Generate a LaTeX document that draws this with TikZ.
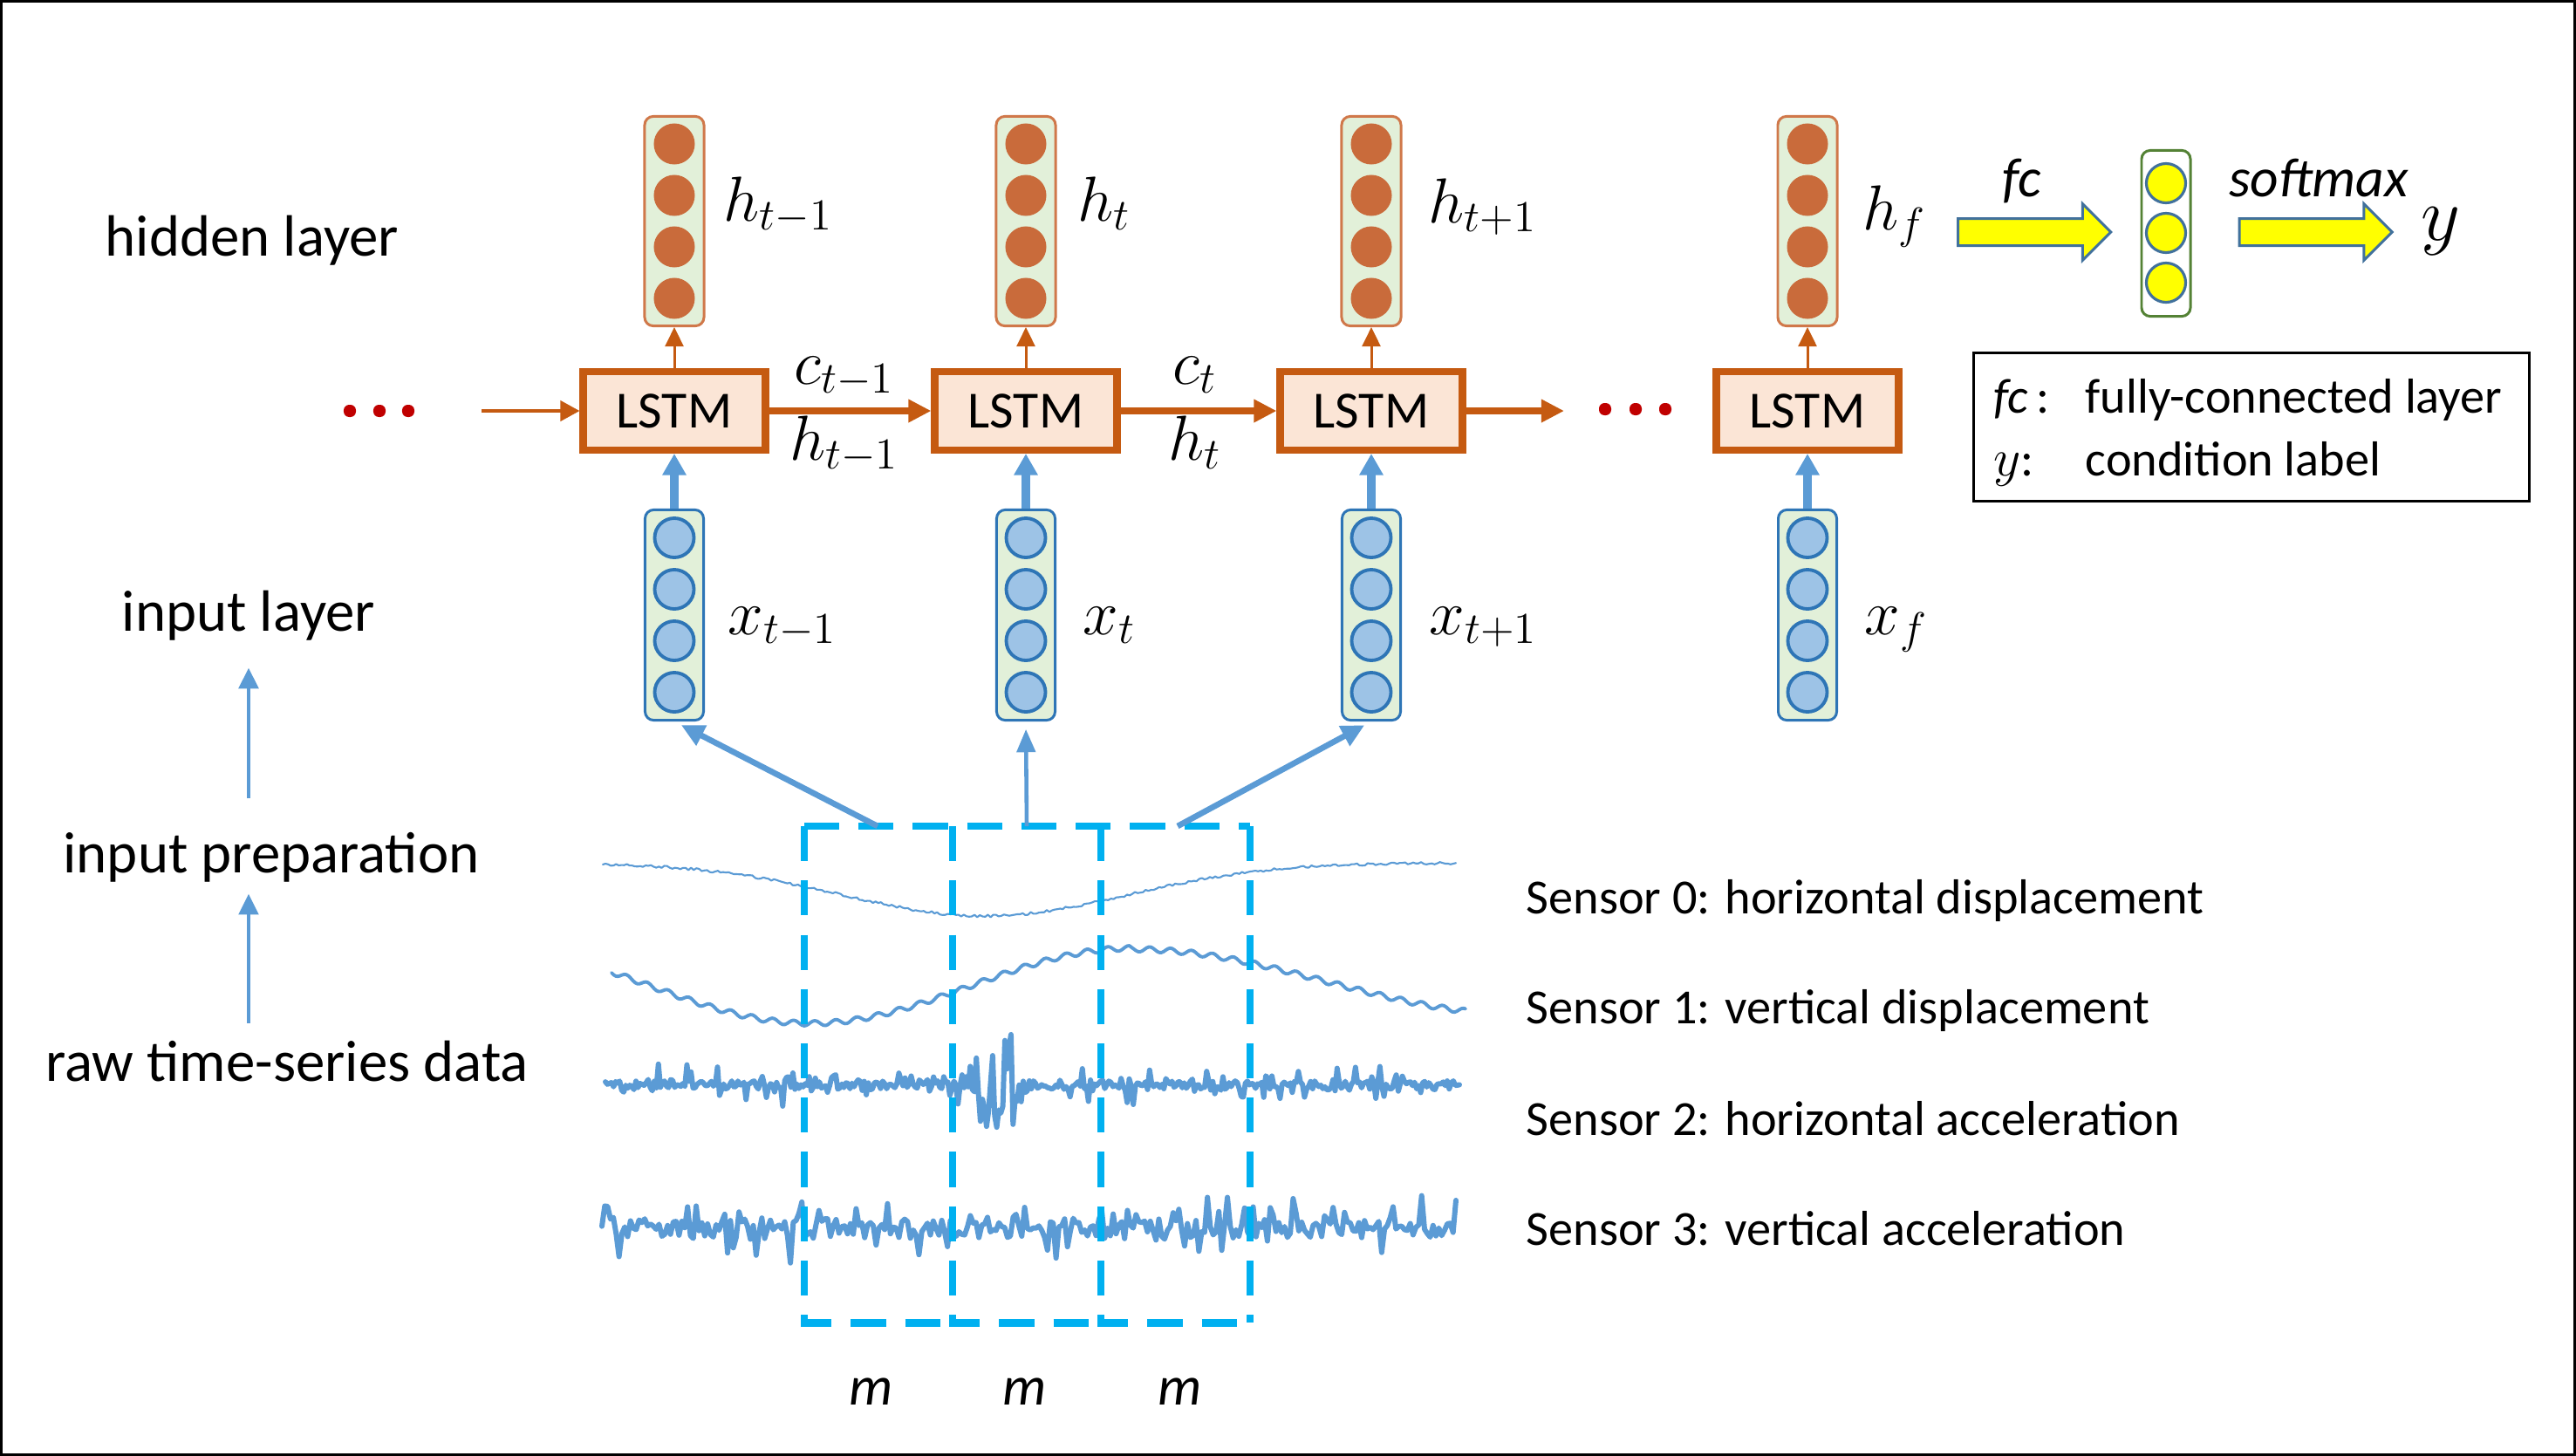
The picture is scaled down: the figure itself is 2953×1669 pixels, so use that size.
\documentclass[tikz,border=0pt]{standalone}
\usepackage{fontspec}
\setmainfont{Carlito}
\usetikzlibrary{arrows.meta,shapes.arrows,calc}
\definecolor{lstmO}{HTML}{C55A11}
\definecolor{lstmF}{HTML}{FBE5D6}
\definecolor{vecF}{HTML}{E2F0D9}
\definecolor{hBord}{HTML}{D0784A}
\definecolor{hCirc}{HTML}{C96B3B}
\definecolor{inB}{HTML}{2E75B6}
\definecolor{inF}{HTML}{9DC3E6}
\definecolor{arB}{HTML}{5B9BD5}
\definecolor{cyanD}{HTML}{00B0F0}
\definecolor{dotR}{HTML}{C00000}
\definecolor{yelF}{HTML}{FFFF00}
\definecolor{yelE}{HTML}{41719C}
\definecolor{grnE}{HTML}{548235}
\begin{document}
\begin{tikzpicture}[x=0.01cm,y=-0.01cm,
  declare function={spk(\r)=\r*\r*\r*\r*\r*\r*\r; spf(\r)=\r*\r*\r*\r*\r;},
  lstmbox/.style={draw=lstmO,line width=2.4pt,fill=lstmF,minimum width=2.085cm,minimum height=0.895cm,inner sep=0pt,font=\fontsize{17}{20}\selectfont},
  hbox/.style={draw=hBord,line width=0.85pt,fill=vecF,rounded corners=2.8pt,minimum width=0.68cm,minimum height=2.40cm,inner sep=0pt},
  ibox/.style={draw=inB,line width=0.85pt,fill=vecF,rounded corners=2.8pt,minimum width=0.67cm,minimum height=2.41cm,inner sep=0pt},
  hcirc/.style={circle,fill=hCirc,minimum size=0.47cm,inner sep=0pt},
  icirc/.style={circle,fill=inF,draw=inB,line width=1.1pt,minimum size=0.45cm,inner sep=0pt},
  ycirc/.style={circle,fill=yelF,draw=yelE,line width=0.9pt,minimum size=0.45cm,inner sep=0pt},
  ybox/.style={draw=grnE,line width=0.85pt,fill=white,rounded corners=2.8pt,minimum width=0.56cm,minimum height=1.90cm,inner sep=0pt},
  mlab/.style={anchor=base west,inner sep=0pt,font=\fontsize{19.5}{23}\selectfont},
  clab/.style={anchor=base,inner sep=0pt,font=\fontsize{19.5}{23}\selectfont},
  txt/.style={anchor=base,inner sep=0pt,font=\fontsize{19}{23}\selectfont},
  sens/.style={anchor=base west,inner sep=0pt,font=\fontsize{16}{19}\selectfont},
  itl/.style={anchor=base,inner sep=0pt,font=\fontsize{18}{21}\selectfont\itshape},
  dotn/.style={rectangle,rounded corners=1.8pt,fill=dotR,minimum width=0.14cm,minimum height=0.14cm,inner sep=0pt},
  oconn/.style={draw=lstmO,line width=2.3pt,-{Triangle[length=7.4pt,width=7.1pt]}},
  othin/.style={draw=lstmO,line width=0.85pt,-{Triangle[length=6.3pt,width=6pt]}},
  oin/.style={draw=lstmO,line width=1.1pt,-{Triangle[length=6.3pt,width=6.6pt]}},
  bup/.style={draw=arB,line width=2.8pt,-{Triangle[length=7pt,width=7.4pt]}},
  wdiag/.style={draw=arB,line width=1.9pt,-{Triangle[length=7.5pt,width=7pt]}},
  wmid/.style={draw=arB,line width=1.3pt,-{Triangle[length=7.5pt,width=6pt]}},
  lup/.style={draw=arB,line width=1.4pt,-{Triangle[length=6.8pt,width=6.3pt]}},
  sig/.style={draw=arB,line join=round,line cap=round},
  dashwin/.style={draw=cyanD,line width=2.55pt,dash pattern=on 11.4pt off 6.3pt},
  barrow/.style={single arrow,draw=yelE,fill=yelF,line width=0.85pt,minimum height=1.75cm,single arrow head extend=0.17cm,inner xsep=0pt,inner ysep=0.14cm}
]
\useasboundingbox (0,0) rectangle (2953,1669);
\draw[line width=0.85pt] (1.5,1.5) rectangle (2951.5,1667.5);

% ---------- left labels ----------
\node[txt] (lhid) at (289,293) {hidden layer};
\node[txt] (linp) at (285,723) {input layer};
\node[txt] (lprep) at (311,1000) {input preparation};
\node[txt] (lraw) at (329,1239) {raw time-series data};
\draw[lup,shorten <=10.8pt,shorten >=8.8pt] (lprep.north -| linp.south) -- (linp.south);
\draw[lup,shorten <=5.4pt,shorten >=3.7pt] (lraw.north -| linp.south) -- (lprep.south -| linp.south);

% ---------- columns ----------
\foreach \c/\xx in {1/773,2/1176,3/1572,4/2072}{
  \node[hbox] (H\c) at (\xx,253.5) {};
  \foreach \k/\dy in {1/-88.5,2/-29.5,3/29.5,4/88.5}
    \node[hcirc] (H\c-\k) at (\xx,{253.5+\dy}) {};
  \node[ibox] (I\c) at (\xx,705) {};
  \foreach \k/\dy in {1/-88.5,2/-29.5,3/29.5,4/88.5}
    \node[icirc] (I\c-\k) at (\xx,{705+\dy}) {};
  \node[lstmbox] (L\c) at (\xx,471) {LSTM};
  \draw[othin] (L\c.north) -- (H\c.south);
  \draw[bup] (I\c.north) -- (L\c.south);
}

% ---------- math labels ----------
\node[mlab] (hl1) at (829,253) {$h_{t-1}$};
\node[mlab] (hl2) at (1235,253) {$h_t$};
\node[mlab] (hl3) at (1637,255) {$h_{t+1}$};
\node[mlab] (hl4) at (2135,263) {$h_f$};
\node[mlab] (xl1) at (834,727) {$x_{t-1}$};
\node[mlab] (xl2) at (1241,727) {$x_t$};
\node[mlab] (xl3) at (1638,727) {$x_{t+1}$};
\node[mlab] (xl4) at (2137,727) {$x_f$};
\node[clab] (cl1) at (968,440) {$c_{t-1}$};
\node[clab] (cl2) at (968,527) {$h_{t-1}$};
\node[clab] (cl3) at (1370,440) {$c_t$};
\node[clab] (cl4) at (1370,527) {$h_t$};

% ---------- recurrent chain ----------
\node[dotn] (dl1) at (401,471) {};
\node[dotn] (dl2) at (435,471) {};
\node[dotn] (dl3) at (468,471) {};
\node[dotn] (dr1) at (1840,469) {};
\node[dotn] (dr2) at (1875,469) {};
\node[dotn] (dr3) at (1909,469) {};
\coordinate (lstart) at (552,471);
\coordinate (lend) at (1793,471);
\draw[oin] (lstart) -- (L1.west);
\draw[oconn] (L1.east) -- (L2.west);
\draw[oconn] (L2.east) -- (L3.west);
\draw[oconn] (L3.east) -- (lend);

% ---------- output side ----------
\node[barrow] (fcA) at (2324.5,266) {};
\node[barrow] (smA) at (2647,266) {};
\node[itl] (fcl) at (2318,225) {fc};
\node[itl] (sml) at (2658,225) {softmax};
\node[ybox] (Y) at (2483,267.5) {};
\node[ycirc] (Y-1) at (2483,210) {};
\node[ycirc] (Y-2) at (2483,267) {};
\node[ycirc] (Y-3) at (2483,324) {};
\node[anchor=base,inner sep=0pt,font=\fontsize{24}{28}\selectfont] (ylab) at (2798,275) {$y$};

% legend
\node[draw,line width=0.8pt,minimum width=6.37cm,minimum height=1.70cm,inner sep=0pt] (leg) at (2581,489.5) {};
\node[sens] (lg1) at (2285,473) {\textit{fc}\,:};
\node[sens] (lg2) at (2390,473) {fully-connected layer};
\node[sens] (lg3) at (2285,545) {$y$:};
\node[sens] (lg4) at (2390,545) {condition label};

% ---------- signals ----------
\pgfmathsetseed{7}
\draw[sig,line width=0.6pt] plot[domain=691:1669,samples=320,variable=\x]
  (\x,{989+61*exp(-((\x-1129)/230)^2)+1.5*rand});
\draw[sig,line width=1.1pt] plot[domain=701:1680,samples=400,variable=\x]
  (\x,{((\x<1297) ? (1130-43*cos((\x-1297)*0.48913)) : (1088+37.5*(1-cos((\x-1297)*0.4)))) + 3*sin(15*(\x-700))});
\draw[sig,line width=1.7pt] plot[domain=694:1673,samples=420,variable=\x]
  (\x,{1244+5*rand+24*spk(rand)+58*max(0,1-((\x-1140)/42)^2)*rand});
\draw[sig,line width=1.7pt] plot[domain=690:1669,samples=300,variable=\x]
  (\x,{1408+11*rand+32*spf(rand)});

% ---------- sensor labels ----------
\node[sens] (s0) at (1749,1047) {Sensor 0: horizontal displacement};
\node[sens] (s1) at (1749,1173) {Sensor 1: vertical displacement};
\node[sens] (s2) at (1749,1301) {Sensor 2: horizontal acceleration};
\node[sens] (s3) at (1749,1427) {Sensor 3: vertical acceleration};

% ---------- windows ----------
\draw[dashwin] (922,947) -- (1433,947);
\draw[dashwin] (922,947) -- (922,1516) -- (1092,1516);
\draw[dashwin] (1092,947) -- (1092,1516) -- (1262,1516);
\draw[dashwin] (1262,947) -- (1262,1516) -- (1433,1516);
\draw[dashwin] (1433,947) -- (1433,1516);
\node[itl] (m1) at (999,1610) {m};
\node[itl] (m2) at (1175,1610) {m};
\node[itl] (m3) at (1353,1610) {m};

\coordinate (w1) at (1006,947);
\coordinate (w2) at (1177,947);
\coordinate (w3) at (1350,947);
\draw[wdiag,shorten >=2.5pt] (w1) -- (I1.south);
\draw[wmid,shorten >=2.5pt] (w2) -- (I2.south);
\draw[wdiag,shorten >=2.5pt] (w3) -- (I3.south);
\end{tikzpicture}
\end{document}
